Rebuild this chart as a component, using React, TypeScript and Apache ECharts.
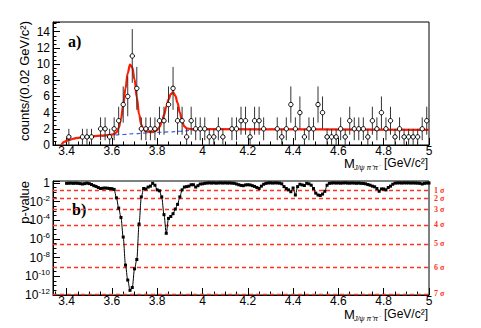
import React, { useEffect, useRef } from 'react';
import * as echarts from 'echarts';

// ---------- data (top panel: invariant mass spectrum) ----------
const xMin = 3.34;
const xMax = 5.0;
const binCenters = [3.41, 3.47, 3.49, 3.51, 3.55, 3.57, 3.59, 3.61, 3.63, 3.65, 3.67, 3.69, 3.71, 3.73, 3.75, 3.77, 3.79, 3.81, 3.83, 3.85, 3.87, 3.89, 3.91, 3.93, 3.95, 3.97, 3.99, 4.01, 4.03, 4.05, 4.07, 4.09, 4.13, 4.15, 4.17, 4.19, 4.21, 4.23, 4.25, 4.27, 4.33, 4.35, 4.37, 4.39, 4.41, 4.43, 4.45, 4.47, 4.49, 4.51, 4.53, 4.55, 4.57, 4.59, 4.61, 4.63, 4.65, 4.67, 4.69, 4.71, 4.73, 4.75, 4.77, 4.79, 4.81, 4.83, 4.85, 4.87, 4.89, 4.91, 4.93, 4.95, 4.97, 4.99];
const counts = [1, 1, 1, 1, 2, 2, 1, 2, 3, 5, 6, 11, 7, 2, 2, 2, 2, 3, 3, 5, 7, 3, 3, 1, 3, 2, 2, 2, 1, 1, 2, 1, 2, 2, 3, 3, 1, 3, 3, 2, 2, 1, 2, 5, 2, 4, 1, 2, 2, 5, 4, 1, 1, 1, 2, 1, 3, 2, 2, 2, 1, 3, 2, 4, 2, 3, 1, 2, 1, 1, 1, 1, 2, 3];
// error-bar ends, by count
const errorBarLow: Record<number, number> = { 1: 0.0, 2: 0.59, 3: 1.27, 4: 2.0, 5: 2.76, 6: 3.55, 7: 4.35, 11: 7.68 };
const errorBarHigh: Record<number, number> = { 1: 2.0, 2: 3.41, 3: 4.73, 4: 6.0, 5: 7.24, 6: 8.45, 7: 9.65, 11: 14.32 };

// total fit (red) and background (blue dashed)
const totalFit: [number, number][] = [
  [3.377, 0], [3.39, 0.4], [3.41, 0.65], [3.45, 0.88], [3.5, 1.03], [3.55, 1.15], [3.59, 1.25], [3.61, 1.35],
  [3.62, 1.55], [3.63, 2.1], [3.64, 3.2], [3.65, 4.9], [3.66, 7.0], [3.67, 8.9], [3.68, 9.95], [3.69, 9.6],
  [3.7, 8.1], [3.71, 5.9], [3.72, 3.8], [3.73, 2.5], [3.74, 1.9], [3.75, 1.7], [3.77, 1.6], [3.79, 1.7],
  [3.8, 1.85], [3.81, 2.2], [3.82, 2.8], [3.83, 3.7], [3.84, 4.7], [3.85, 5.6], [3.86, 6.3], [3.87, 6.5],
  [3.88, 6.1], [3.89, 5.2], [3.9, 4.0], [3.91, 2.9], [3.92, 2.3], [3.93, 2.05], [3.95, 1.95], [4.0, 1.95],
  [4.5, 1.92], [5.0, 1.87],
];
const backgroundFit: [number, number][] = [
  [3.377, 0], [3.39, 0.35], [3.41, 0.6], [3.45, 0.85], [3.5, 1.0], [3.55, 1.12], [3.6, 1.22], [3.65, 1.3],
  [3.7, 1.4], [3.75, 1.48], [3.8, 1.56], [3.85, 1.62], [3.9, 1.7], [3.95, 1.8], [4.0, 1.88], [4.1, 1.93],
  [4.3, 1.95], [4.6, 1.93], [5.0, 1.9],
];

// ---------- data (bottom panel: p-value scan, log10 p) ----------
const pValueScan: [number, number][] = [
  [3.40, -0.05], [3.41, -0.04], [3.42, -0.03], [3.43, -0.05], [3.44, -0.03], [3.45, -0.05], [3.46, -0.08], [3.47, -0.12],
  [3.48, -0.08], [3.49, -0.03], [3.50, -0.08], [3.51, -0.18], [3.52, -0.3], [3.53, -0.38], [3.54, -0.5], [3.55, -0.6],
  [3.56, -0.57], [3.57, -0.55], [3.58, -0.57], [3.59, -0.6], [3.60, -0.62], [3.61, -0.7], [3.62, -1.6], [3.63, -2.7],
  [3.64, -3.7], [3.65, -5.8], [3.66, -8.8], [3.67, -10.4], [3.68, -11.5], [3.69, -11.2], [3.70, -9.2], [3.71, -8.2],
  [3.72, -4.4], [3.73, -1.5], [3.74, -0.6], [3.75, -0.65], [3.76, -0.45], [3.77, -0.35], [3.78, -0.05], [3.79, -0.25],
  [3.80, -0.75], [3.81, -0.85], [3.82, -1.5], [3.83, -3.4], [3.84, -5.4], [3.85, -3.8], [3.86, -3.6], [3.87, -3.3],
  [3.88, -2.8], [3.89, -2.3], [3.90, -1.5], [3.91, -0.75], [3.92, -0.45], [3.93, -0.4], [3.94, -0.35], [3.95, -0.2],
  [3.96, -0.2], [3.97, -0.45], [3.98, -0.3], [3.99, -0.12], [4.00, -0.1], [4.01, -0.05], [4.02, -0.02], [4.03, 0],
  [4.04, -0.02], [4.05, 0], [4.06, -0.03], [4.07, -0.01], [4.08, 0], [4.09, -0.02], [4.10, 0], [4.11, -0.02],
  [4.12, -0.01], [4.13, -0.03], [4.14, -0.05], [4.15, -0.12], [4.16, -0.2], [4.17, -0.27], [4.18, -0.3], [4.19, -0.22],
  [4.20, -0.2], [4.21, -0.22], [4.22, -0.3], [4.23, -0.38], [4.24, -0.5], [4.25, -0.6], [4.26, -0.35], [4.27, -0.15],
  [4.28, -0.05], [4.29, -0.01], [4.30, 0], [4.31, -0.02], [4.32, 0], [4.33, -0.01], [4.34, -0.03], [4.35, -0.1],
  [4.36, -0.4], [4.37, -0.6], [4.38, -0.75], [4.39, -0.95], [4.40, -0.55], [4.41, -1.3], [4.42, -0.4], [4.43, -0.15],
  [4.44, -0.22], [4.45, -0.28], [4.46, -0.05], [4.47, -0.1], [4.48, -0.25], [4.49, -0.6], [4.50, -1.1], [4.51, -1.3],
  [4.52, -1.35], [4.53, -1.2], [4.54, -0.9], [4.55, -0.25], [4.56, -0.05], [4.57, -0.02], [4.58, 0], [4.59, -0.02],
  [4.60, -0.01], [4.61, -0.03], [4.62, -0.01], [4.63, 0], [4.64, -0.02], [4.65, -0.03], [4.66, -0.01], [4.67, -0.02],
  [4.68, -0.04], [4.69, -0.02], [4.70, -0.05], [4.71, -0.06], [4.72, -0.1], [4.73, -0.18], [4.74, -0.25], [4.75, -0.35],
  [4.76, -0.42], [4.77, -0.6], [4.78, -0.9], [4.79, -0.65], [4.80, -0.65], [4.81, -0.75], [4.82, -0.5], [4.83, -0.35],
  [4.84, -0.15], [4.85, -0.03], [4.86, -0.01], [4.87, 0], [4.88, -0.02], [4.89, 0], [4.90, -0.01], [4.91, 0],
  [4.92, -0.02], [4.93, -0.01], [4.94, -0.02], [4.95, -0.03], [4.96, -0.05], [4.97, -0.12], [4.98, -0.05], [4.99, -0.02],
  [5.00, -0.02],
];
// one-sided p-values of n sigma, as log10
const sigmaNames = ['1 σ', '2 σ', '3 σ', '4 σ', '5 σ', '6 σ', '7 σ'];
const sigmaLog10P = [-0.7995, -1.643, -2.8697, -4.4993, -6.5425, -9.0059, -11.893];

const SANS = '"Liberation Sans", Arial, Helvetica, sans-serif';
const SERIF = '"Liberation Serif", "Times New Roman", serif';
const SIGMA_RED = '#ff3322';

function xAxisCfg(gridIndex: number) {
  return {
    type: 'value',
    gridIndex,
    min: xMin,
    max: xMax,
    splitNumber: 8,
    axisLine: { show: true, onZero: false, lineStyle: { color: '#000', width: 1 } },
    axisTick: { show: true, inside: true, length: 7, lineStyle: { color: '#000', width: 1 } },
    minorTick: { show: true, splitNumber: 4, length: 3.5, lineStyle: { color: '#000', width: 1 } },
    axisLabel: { showMinLabel: false, margin: 0, color: '#000', fontSize: 12, lineHeight: 12, fontFamily: SANS },
    splitLine: { show: false },
    minorSplitLine: { show: false },
  };
}

function txt(x: number, y: number, text: string, size: number, align: string, extra: any = {}) {
  return {
    type: 'text', x, y, silent: true, ...(extra.el || {}),
    style: {
      text, fontSize: size, fontFamily: SANS, fill: '#000',
      align, verticalAlign: 'middle', textAlign: align, textVerticalAlign: 'middle',
      ...(extra.style || {}),
    },
  };
}

export default function App() {
  const ref = useRef<HTMLDivElement>(null);
  useEffect(() => {
    if (!ref.current) return;
    const chart = echarts.init(ref.current, undefined, { renderer: 'svg' });

    const errorData = binCenters.map((x, i) => [x, counts[i], errorBarLow[counts[i]], errorBarHigh[counts[i]]]);
    const sigmaLineStyle = { color: SIGMA_RED, width: 1.3, type: [4, 3], opacity: 1 };
    const titleStyle = { lineHeight: 11 };

    const option: any = {
      animation: false,
      backgroundColor: '#ffffff',
      grid: [
        { left: 53, top: 22, width: 376, height: 123, show: true, borderColor: '#000', borderWidth: 1, backgroundColor: 'transparent' },
        { left: 53, top: 181, width: 376, height: 114, show: true, borderColor: '#000', borderWidth: 1, backgroundColor: 'transparent' },
      ],
      xAxis: [xAxisCfg(0), xAxisCfg(1)],
      yAxis: [
        {
          type: 'value', gridIndex: 0, min: 0, max: 15.2, interval: 2,
          axisLine: { show: true, onZero: false, lineStyle: { color: '#000', width: 1 } },
          axisTick: { show: true, inside: true, length: 7, lineStyle: { color: '#000' } },
          minorTick: { show: true, splitNumber: 4, length: 3.5, lineStyle: { color: '#000' } },
          axisLabel: { showMaxLabel: false, margin: 3, color: '#000', fontSize: 12, fontFamily: SANS },
          splitLine: { show: false },
        },
        {
          type: 'value', gridIndex: 1, min: -12, max: 0.2, interval: 2,
          axisLine: { show: true, onZero: false, lineStyle: { color: '#000', width: 1 } },
          axisTick: { show: true, inside: true, length: 7, lineStyle: { color: '#000' } },
          minorTick: { show: true, splitNumber: 4, length: 3.5, lineStyle: { color: '#000' } },
          axisLabel: {
            showMaxLabel: false, margin: 3, color: '#000', fontFamily: SANS,
            formatter: (v: number) => (Math.abs(v) < 1e-9 ? '{b|1}' : `{b|10}{s|${Math.round(v)}}`),
            rich: {
              b: { fontSize: 12, fontFamily: SANS, color: '#000' },
              s: { fontSize: 8, fontFamily: SANS, color: '#000', padding: [0, 0, 7, 0] },
            },
          },
          splitLine: { show: false },
        },
      ],
      series: [
        {
          type: 'line', xAxisIndex: 0, yAxisIndex: 0, data: backgroundFit, showSymbol: false, symbol: 'none',
          smooth: 0.4, smoothMonotone: 'x',
          lineStyle: { color: '#3a5cf0', width: 1.2, type: [4, 3] }, z: 2, silent: true,
        },
        {
          type: 'line', xAxisIndex: 0, yAxisIndex: 0, data: totalFit, showSymbol: false, symbol: 'none',
          smooth: 0.4, smoothMonotone: 'x',
          lineStyle: { color: '#ff1a00', width: 2.2 }, z: 3, silent: true,
        },
        {
          type: 'custom', xAxisIndex: 0, yAxisIndex: 0, data: errorData, z: 5, silent: true,
          encode: { x: 0, y: 1 },
          renderItem: (params: any, api: any) => {
            const x = api.value(0);
            const y = api.value(1);
            const lo = api.coord([x, api.value(2)]);
            const hi = api.coord([x, api.value(3)]);
            const c = api.coord([x, y]);
            return {
              type: 'group',
              children: [
                { type: 'line', shape: { x1: lo[0], y1: lo[1], x2: hi[0], y2: hi[1] }, style: { stroke: '#333', lineWidth: 1 } },
                { type: 'circle', shape: { cx: c[0], cy: c[1], r: 2.2 }, style: { fill: '#fff', stroke: '#000', lineWidth: 1 } },
              ],
            };
          },
        },
        {
          type: 'line', xAxisIndex: 1, yAxisIndex: 1, data: pValueScan,
          symbol: 'rect', symbolSize: 3, showSymbol: true, smooth: 0.3, smoothMonotone: 'x',
          itemStyle: { color: '#000' }, lineStyle: { color: '#000', width: 1 }, z: 4, silent: true,
          markLine: {
            silent: true, symbol: ['none', 'none'], animation: false, z: 3,
            lineStyle: sigmaLineStyle,
            emphasis: { disabled: true },
            label: { show: true, position: 'end', formatter: '{b}', color: SIGMA_RED, fontSize: 8, lineHeight: 8, fontWeight: 'bold', fontFamily: SERIF, distance: 5 },
            data: sigmaLog10P.map((v, i) => ({ yAxis: v, name: sigmaNames[i], lineStyle: sigmaLineStyle })),
          },
        },
      ],
      graphic: [
        txt(68, 41, 'a)', 16, 'left', { style: { fontWeight: 'bold', fontFamily: SERIF } }),
        txt(72, 209, 'b)', 16, 'left', { style: { fontWeight: 'bold', fontFamily: SERIF } }),
        txt(24, 21, 'counts/(0.02 GeV/c²)', 13, 'right', { el: { rotation: Math.PI / 2 } }),
        txt(24, 181, 'p-value', 13, 'right', { el: { rotation: Math.PI / 2 } }),
        // x titles
        txt(344, 163, 'M', 13, 'left', { style: titleStyle }),
        txt(354, 167, 'J/ψ π⁺π⁻', 7, 'left', { style: { fontStyle: 'italic', lineHeight: 7 } }),
        txt(428, 163, '[GeV/c²]', 12, 'right', { style: titleStyle }),
        txt(344, 314, 'M', 13, 'left', { style: titleStyle }),
        txt(354, 318, 'J/ψ π⁺π⁻', 7, 'left', { style: { fontStyle: 'italic', lineHeight: 7 } }),
        txt(428, 314, '[GeV/c²]', 12, 'right', { style: titleStyle }),
      ],
    };
    chart.setOption(option);
    return () => chart.dispose();
  }, []);

  return (
    <div
      ref={ref}
      style={{ position: 'fixed', left: 0, top: 0, width: 481, height: 328, background: '#fff' }}
    />
  );
}
